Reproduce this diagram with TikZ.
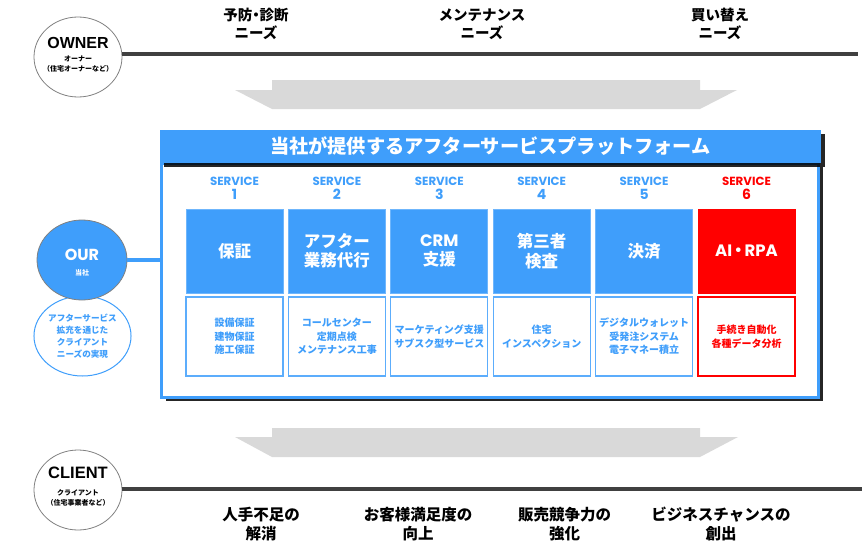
\documentclass[tikz,border=0pt]{standalone}
\usepackage{fontspec}
\setmainfont{Noto Sans CJK JP}
\newfontfamily\geofont{Poppins}
\newfontfamily\arialfont{Liberation Sans}
\usetikzlibrary{shapes.geometric,shadows}
\definecolor{platblue}{HTML}{3F9EFB}
\definecolor{platred}{HTML}{FF0000}
\definecolor{bandgray}{HTML}{D9D9D9}
\definecolor{axisgray}{HTML}{404040}
\tikzset{
  actor/.style={ellipse, draw=gray, fill=white, line width=0.8pt, minimum width=88pt, minimum height=80pt, inner sep=0pt},
  need/.style={align=center, font=\bfseries\fontsize{14.5}{18}\selectfont},
  goal/.style={align=center, font=\bfseries\fontsize{15.5}{18.5}\selectfont},
  svtag/.style={align=center, text=platblue, font=\geofont\bfseries\fontsize{11.8}{14}\selectfont},
  svhead/.style={fill=platblue, draw=platblue!75!white, line width=1pt, minimum width=97pt, minimum height=84pt, inner sep=0pt, text=white, align=center, font=\bfseries\fontsize{16.5}{19.5}\selectfont},
  svbody/.style={fill=white, draw=platblue!85!white, line width=1.3pt, minimum width=97pt, minimum height=79pt, inner sep=0pt, text=platblue, align=center, font=\bfseries\fontsize{10}{13.5}\selectfont},
  bar/.style={drop shadow={shadow xshift=4pt, shadow yshift=-4pt, fill=black, opacity=0.85}}
}
\begin{document}
\begin{tikzpicture}[x=1pt, y=-1pt]
  \useasboundingbox (0,0) rectangle (862,554);

  \node[actor] (owner) at (78,57) {};
  \node[font=\arialfont\bfseries\fontsize{16}{16}\selectfont] (ownername) at (78,43) {OWNER};
  \node[align=center, font=\bfseries\fontsize{7}{10.5}\selectfont] (ownersub) at (78,64) {オーナー\\（住宅オーナーなど）};
  \coordinate (ownerend) at (858,54);
  \draw[axisgray, line width=3.5pt] (owner.east |- ownerend) -- (ownerend);

  \node[need] (need1) at (256,24) {予防{\kern-0.25em}・{\kern-0.25em}診断\\ニーズ};
  \node[need] (need2) at (482,24) {メンテナンス\\ニーズ};
  \node[need] (need3) at (720,24) {買い替え\\ニーズ};

  \fill[bandgray] (272,80) -- (700,80) -- (700,90) -- (737,90) -- (700,109) -- (272,109) -- (235,90) -- (272,90) -- cycle;

  \node[bar, fill=white, draw=platblue, line width=3pt, minimum width=657pt, minimum height=234pt] (panel) at (490,280) {};
  \node[bar, fill=platblue, minimum width=661pt, minimum height=33pt, text=white, font=\bfseries\fontsize{19.2}{20}\selectfont] (title) at (490.5,146.5) {当社が提供するアフターサービスプラットフォーム};

  \node[svtag] (tag1) at (234.5,188) {SERVICE\\{\fontsize{14}{14}\selectfont 1}};
  \node[svtag] (tag2) at (336.9,188) {SERVICE\\{\fontsize{14}{14}\selectfont 2}};
  \node[svtag] (tag3) at (439.3,188) {SERVICE\\{\fontsize{14}{14}\selectfont 3}};
  \node[svtag] (tag4) at (541.7,188) {SERVICE\\{\fontsize{14}{14}\selectfont 4}};
  \node[svtag] (tag5) at (644.1,188) {SERVICE\\{\fontsize{14}{14}\selectfont 5}};
  \node[svtag, text=platred] (tag6) at (746.5,188) {SERVICE\\{\fontsize{14}{14}\selectfont 6}};

  \node[svhead] (head1) at (234.5,251) {保証};
  \node[svhead] (head2) at (336.9,251) {アフター\\業務代行};
  \node[svhead] (head3) at (439.3,251) {{\geofont CRM}\\支援};
  \node[svhead] (head4) at (541.7,251) {第三者\\検査};
  \node[svhead] (head5) at (644.1,251) {決済};
  \node[svhead, fill=platred, draw=platred] (head6) at (746.5,251) {{\geofont AI}{\kern-0.12em}・{\kern-0.12em}{\geofont RPA}};

  \node[svbody] (body1) at (234.5,336.5) {設備保証\\建物保証\\施工保証};
  \node[svbody] (body2) at (336.9,336.5) {コールセンター\\定期点検\\メンテナンス工事};
  \node[svbody] (body3) at (439.3,336.5) {マーケティング支援\\サブスク型サービス};
  \node[svbody] (body4) at (541.7,336.5) {住宅\\インスペクション};
  \node[svbody] (body5) at (644.1,336.5) {デジタルウォレット\\受発注システム\\電子マネー積立};
  \node[svbody, draw=platred, text=platred] (body6) at (746.5,336.5) {手続き自動化\\各種データ分析};

  \node[actor, draw=platblue, line width=1pt, minimum width=89pt, align=center, text=platblue, font=\bfseries\fontsize{8.6}{12}\selectfont] (ourgoal) at (82.5,336) {アフターサービス\\拡充を通じた\\クライアント\\ニーズの実現};
  \node[actor, fill=platblue, minimum width=90pt] (our) at (82,260) {};
  \node[text=white, font=\geofont\bfseries\fontsize{16}{16}\selectfont] (ourname) at (82,255) {OUR};
  \node[text=white, font=\bfseries\fontsize{7}{7}\selectfont] (oursub) at (82,273) {当社};
  \draw[platblue, line width=4pt] (our.east) -- (our.east -| panel.west);

  \fill[bandgray] (272,428) -- (700,428) -- (700,437) -- (738,437) -- (700,457) -- (272,457) -- (235,437) -- (272,437) -- cycle;

  \node[actor] (client) at (78,490) {};
  \node[font=\arialfont\bfseries\fontsize{16.5}{16.5}\selectfont] (clientname) at (78,473) {CLIENT};
  \node[align=center, font=\bfseries\fontsize{7}{10}\selectfont] (clientsub) at (78,498) {クライアント\\（住宅事業者など）};
  \coordinate (clientend) at (862,489);
  \draw[axisgray, line width=3.5pt] (client.east |- clientend) -- (clientend);

  \node[goal] (goal1) at (261,524) {人手不足の\\解消};
  \node[goal] (goal2) at (418,524) {お客様満足度の\\向上};
  \node[goal] (goal3) at (564.5,524) {販売競争力の\\強化};
  \node[goal] (goal4) at (721,524) {ビジネスチャンスの\\創出};
\end{tikzpicture}
\end{document}
